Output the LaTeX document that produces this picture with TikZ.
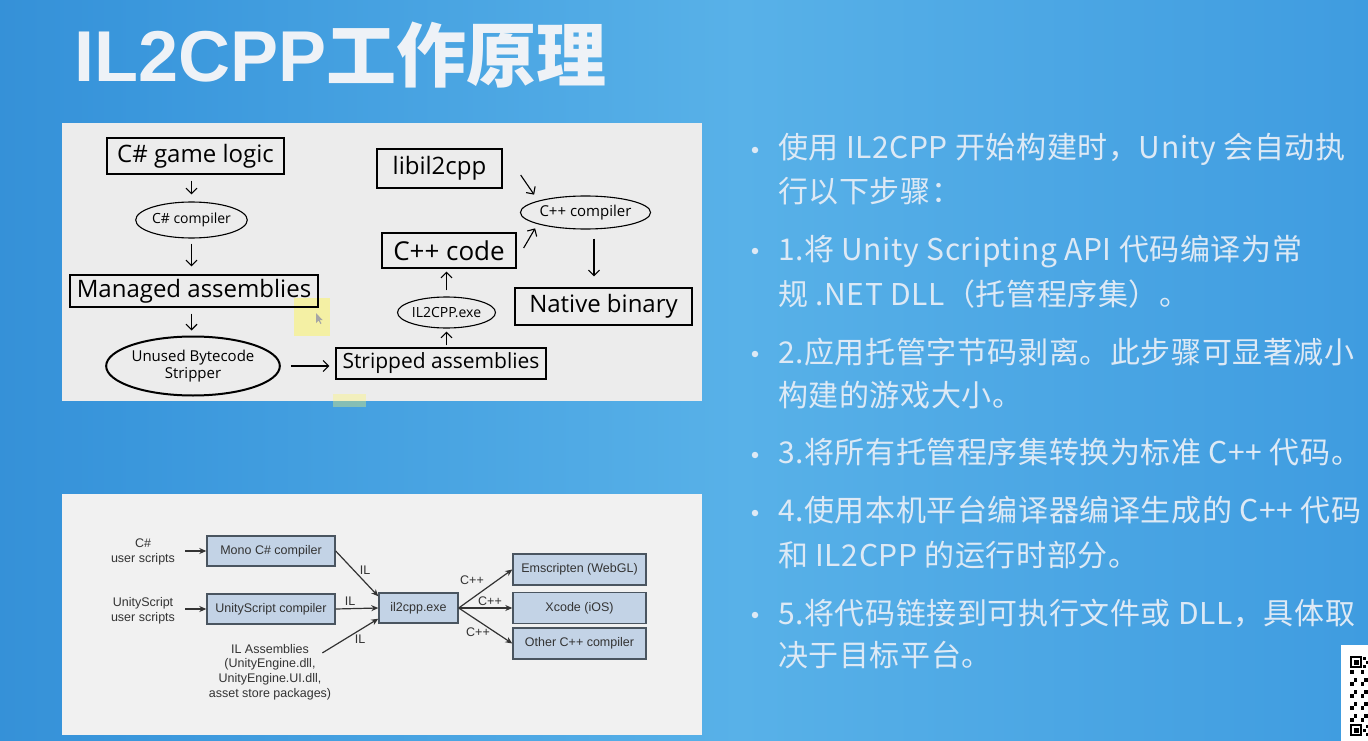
\documentclass[tikz,border=0pt]{standalone}
\usepackage{fontspec}
\setmainfont{Liberation Sans}
\newfontfamily\cjk{Noto Sans CJK SC}
\newfontfamily\cjkrt[LetterSpace=2]{Noto Sans CJK SC}
\newfontfamily\topf{Open Sans}
\usetikzlibrary{shapes.geometric,arrows.meta}
\definecolor{bgA}{HTML}{1E72C3}
\definecolor{bgB}{HTML}{3A97DC}
\definecolor{bgC}{HTML}{58B1E8}
\definecolor{bgD}{HTML}{3F9CE0}
\definecolor{bgE}{HTML}{2883D1}
\pgfdeclarehorizontalshading{bgshade}{100bp}{color(0bp)=(bgA); color(30bp)=(bgB); color(52bp)=(bgC); color(75bp)=(bgD); color(100bp)=(bgE)}
\definecolor{panelA}{HTML}{ECECEC}
\definecolor{panelB}{HTML}{F1F1F1}
\definecolor{titlecol}{HTML}{EEF2F7}
\definecolor{rtcol}{HTML}{DDE9F5}
\definecolor{boxfill}{HTML}{C3D3E6}
\definecolor{boxline}{HTML}{4A5560}
\definecolor{txtgray}{HTML}{333333}
\begin{document}
\begin{tikzpicture}[x=1pt,y=-1pt,
  bigbox/.style={draw=black, line width=1.3pt, inner sep=0pt, font=\topf\fontsize{24}{28}\selectfont},
  oval/.style={ellipse, draw=black, line width=1.1pt, inner sep=0pt, font=\topf\fontsize{14}{17}\selectfont},
  tarr/.style={line width=1.1pt, -{Straight Barb[length=5.5pt,width=11pt]}},
  lbl/.style={font=\fontsize{12.5}{14.7}\selectfont, text=txtgray, inner sep=0pt},
  bbox/.style={draw=boxline, fill=boxfill, line width=1.4pt, inner sep=0pt, minimum width=128pt, minimum height=30pt, font=\fontsize{12.5}{14.5}\selectfont, text=txtgray},
  tbox/.style={bbox, minimum width=133pt, minimum height=31pt},
  barr/.style={line width=1.2pt, draw=txtgray, -{Stealth[length=7pt,width=6pt]}},
  rt/.style={anchor=base west, inner sep=0pt, text=rtcol, font=\cjkrt\fontsize{30}{30}\selectfont},
  bul/.style={circle, fill=rtcol, inner sep=0pt, minimum size=6.5pt}
]
\useasboundingbox (0,0) rectangle (1368,741);
\shade[shading=bgshade] (0,0) rectangle (1368,741);

% title
\node[anchor=base west, inner sep=0pt, text=titlecol] (title) at (74,82)
  {\fontsize{72}{72}\selectfont\bfseries IL2CPP{\cjk\fontsize{70}{70}\selectfont\bfseries 工作原理}};

% panels
\fill[panelA] (62,123) rectangle (702,401);
\fill[panelB] (62,494) rectangle (702,735);

% highlight
\fill[yellow!70!white, opacity=0.45] (294,298) rectangle (330,336);
\fill[yellow!60!white, opacity=0.35] (333,394) rectangle (366,407);
\fill[gray!70] (316,313) -- (316,323) -- (318.5,320.5) -- (320.5,324) -- (321.5,323.3) -- (319.5,320) -- (322.5,320) -- cycle;

% top diagram
\node[bigbox, minimum width=177pt, minimum height=36pt] (game) at (195.5,156) {C\# game logic};
\node[oval, minimum width=95pt, minimum height=36pt] (csc) at (191.5,220) {C\# compiler};
\node[bigbox, minimum width=248pt, minimum height=32pt] (managed) at (194,291) {Managed assemblies};
\node[oval, line width=2pt, minimum width=142pt, minimum height=59pt, align=center, font=\topf\fontsize{15}{17}\selectfont] (strip) at (193,366) {Unused Bytecode\\Stripper};
\node[bigbox, minimum width=210pt, minimum height=31pt, font=\topf\fontsize{21}{25}\selectfont] (stripped) at (441,363.5) {Stripped assemblies};
\node[oval, minimum width=89pt, minimum height=31pt] (ilexe) at (446.5,312.5) {IL2CPP.exe};
\node[bigbox, minimum width=134pt, minimum height=35pt, font=\topf\fontsize{26}{28}\selectfont] (cppcode) at (449,250.5) {C++ code};
\node[oval, minimum width=109pt, minimum height=33pt, font=\topf\fontsize{15}{17}\selectfont] (cppcomp) at (585.5,212.5) {C++ compiler};
\node[bigbox, minimum width=125pt, minimum height=39pt] (lib) at (439.5,168.5) {libil2cpp};
\node[bigbox, minimum width=177pt, minimum height=37pt] (native) at (603.5,306.5) {Native binary};

\draw[tarr, shorten <=6pt, shorten >=7pt] (csc |- game.south) -- (csc.north);
\draw[tarr, shorten <=5pt, shorten >=8pt] (csc.south) -- (csc |- managed.north);
\draw[tarr, shorten <=6pt, shorten >=5pt] (csc |- managed.south) -- (csc |- strip.north);
\draw[tarr, shorten <=10pt, shorten >=6pt] (strip.east) -- (stripped.west |- strip.east);
\draw[tarr, shorten <=2pt, shorten >=3pt] (ilexe |- stripped.north) -- (ilexe.south);
\draw[tarr, shorten <=6pt, shorten >=3pt] (ilexe.north) -- (ilexe |- cppcode.south);
\draw[tarr] ([xshift=7pt,yshift=2.5pt]cppcode.east) -- ([xshift=-4pt,yshift=-3.8pt]cppcomp.south west);
\draw[tarr] ([xshift=18pt,yshift=-6.5pt]lib.east) -- ([xshift=-5pt,yshift=5.8pt]cppcomp.north west);
\draw[tarr] ([xshift=8.5pt,yshift=-9pt]cppcomp.south) -- ([xshift=-9.5pt,yshift=11pt]native.north);

% bottom diagram
\node[lbl, align=center] (cs) at (143,552) {C\#\\user scripts};
\node[lbl, align=center] (uss) at (143,611) {UnityScript\\user scripts};
\node[bbox] (mono) at (271,551) {Mono C\# compiler};
\node[bbox] (usc) at (271,609) {UnityScript compiler};
\node[bbox, minimum width=79pt] (il2) at (418.5,608) {il2cpp.exe};
\node[tbox] (ems) at (579.5,569.5) {Emscripten (WebGL)};
\node[tbox] (xc) at (579.5,608) {Xcode (iOS)};
\node[tbox] (oth) at (579.5,643.5) {Other C++ compiler};
\node[lbl, align=center] (ila) at (270,672) {IL Assemblies\\(UnityEngine.dll,\\UnityEngine.UI.dll,\\asset store packages)};

\draw[barr, shorten <=10pt] (mono.west -| cs.east) -- (mono.west);
\draw[barr, shorten <=10pt] (usc.west -| uss.east) -- (usc.west);
\draw[barr] (mono.east) -- ([yshift=-4pt]il2.north west);
\draw[barr] (usc.east) -- (il2.west);
\draw[barr] ([xshift=-9pt,yshift=-9pt]ila.north east) -- ([yshift=5pt]il2.south west);
\draw[barr] (il2.east) -- (ems.west);
\draw[barr] (il2.east) -- (xc.west);
\draw[barr] (il2.east) -- (oth.west);

\node[lbl] (l1) at (365,570) {IL};
\node[lbl] (l2) at (350,601) {IL};
\node[lbl] (l3) at (360,639) {IL};
\node[lbl] (c1) at (472,580) {C++};
\node[lbl] (c2) at (490,601) {C++};
\node[lbl] (c3) at (478,632) {C++};

% right text
\node[bul] (b1) at (755,150) {};
\node[rt] (t1) at (778,159) {使用 IL2CPP 开始构建时，Unity 会自动执};
\node[rt] (t1b) at (778,202) {行以下步骤：};
\node[bul] (b2) at (755,251) {};
\node[rt] (t2) at (778,260) {1.将 Unity Scripting API 代码编译为常};
\node[rt] (t2b) at (778,305) {规 .NET DLL（托管程序集）。};
\node[bul] (b3) at (755,354) {};
\node[rt] (t3) at (778,363) {2.应用托管字节码剥离。此步骤可显著减小};
\node[rt] (t3b) at (778,406) {构建的游戏大小。};
\node[bul] (b4) at (755,455) {};
\node[rt] (t4) at (778,463) {3.将所有托管程序集转换为标准 C++ 代码。};
\node[bul] (b5) at (755,513) {};
\node[rt] (t5) at (778,521) {4.使用本机平台编译器编译生成的 C++ 代码};
\node[rt] (t5b) at (778,566) {和 IL2CPP 的运行时部分。};
\node[bul] (b6) at (755,615) {};
\node[rt] (t6) at (778,624) {5.将代码链接到可执行文件或 DLL，具体取};
\node[rt] (t6b) at (778,666) {决于目标平台。};

% QR code
\fill[white] (1341,645) rectangle (1368,741);
\foreach \yy in {656,724}{
  \fill[black] (1350,\yy) rectangle (1362,\yy+12);
  \fill[white] (1351.7,\yy+1.7) rectangle (1360.3,\yy+10.3);
  \fill[black] (1353.5,\yy+3.5) rectangle (1358.5,\yy+8.5);
}
\foreach \r in {0,...,12}{
  \foreach \c in {0,...,4}{
    \pgfmathtruncatemacro\vv{mod(\r*7+\c*11+\r*\c,3)}
    \ifnum\vv=0 \fill[black] (1350+\c*3.6,670+\r*4) rectangle (1353.6+\c*3.6,674+\r*4); \fi
  }
}
\foreach \r in {0,...,2}{
  \foreach \c in {0,...,1}{
    \pgfmathtruncatemacro\vv{mod(\r*5+\c*3,2)}
    \ifnum\vv=0 \fill[black] (1363+\c*2.5,657+\r*4) rectangle (1365.5+\c*2.5,660+\r*4); \fi
    \ifnum\vv=1 \fill[black] (1363+\c*2.5,725+\r*4) rectangle (1365.5+\c*2.5,728+\r*4); \fi
  }
}
\end{tikzpicture}
\end{document}
